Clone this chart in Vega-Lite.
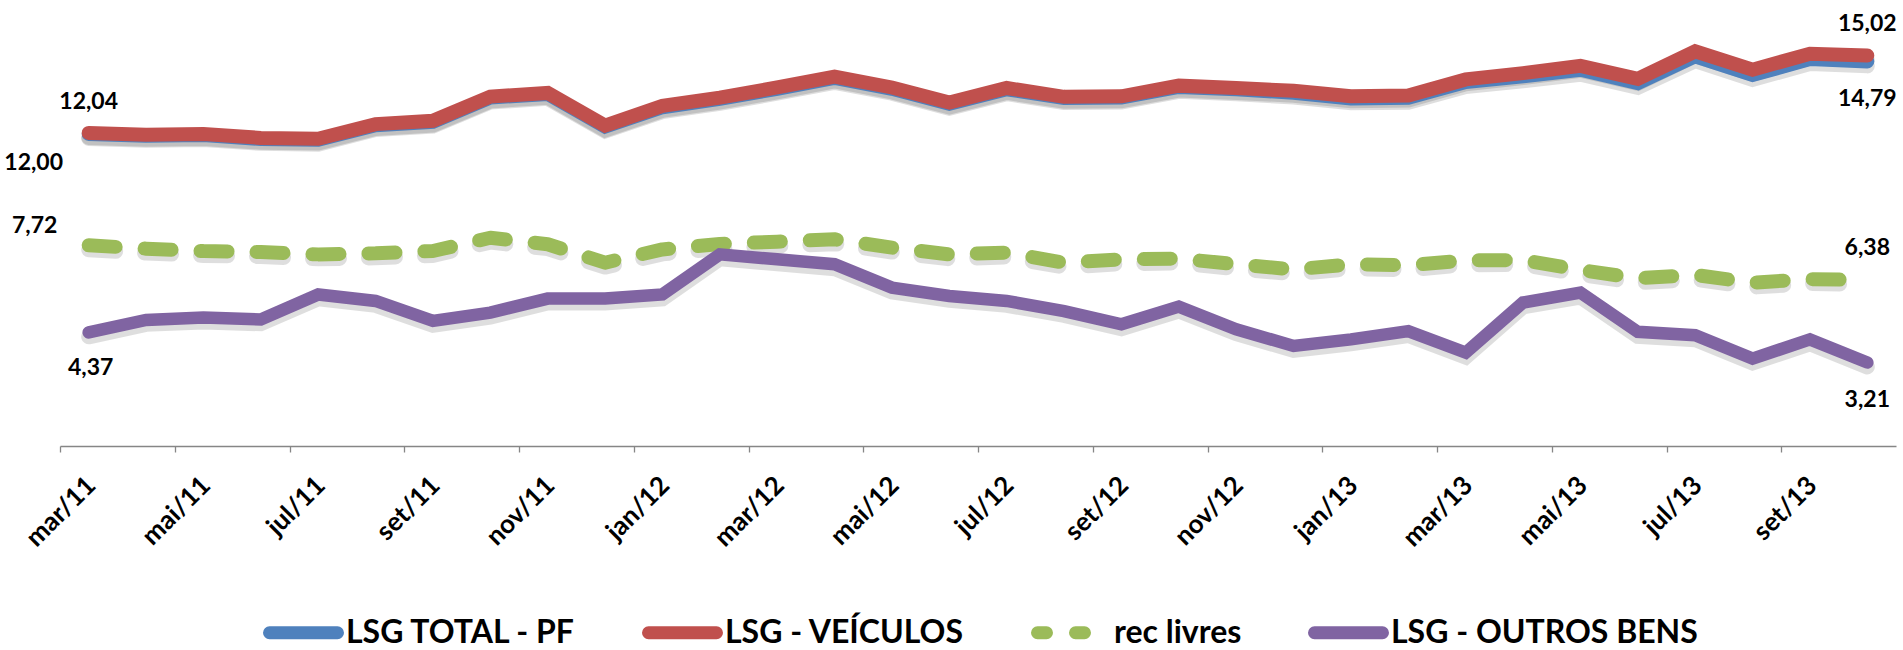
{
  "$schema": "https://vega.github.io/schema/vega-lite/v6.json",
  "width": 1836,
  "height": 416,
  "padding": {"left": 60, "top": 30, "right": 7, "bottom": 204},
  "autosize": {"type": "none"},
  "background": "white",
  "config": {
    "view": {"stroke": null},
    "font": "Lato",
    "locale": {"number": {"decimal": ",", "thousands": ".", "grouping": [3], "currency": ["R$", ""]}}
  },
  "data": {"values": [
    {"mes": "mar/11", "LSG TOTAL - PF": 12.00, "LSG - VEÍCULOS": 12.04, "rec livres": 7.72, "LSG - OUTROS BENS": 4.37},
    {"mes": "abr/11", "LSG TOTAL - PF": 11.93, "LSG - VEÍCULOS": 11.97, "rec livres": 7.59, "LSG - OUTROS BENS": 4.85},
    {"mes": "mai/11", "LSG TOTAL - PF": 11.96, "LSG - VEÍCULOS": 12.00, "rec livres": 7.50, "LSG - OUTROS BENS": 4.94},
    {"mes": "jun/11", "LSG TOTAL - PF": 11.81, "LSG - VEÍCULOS": 11.85, "rec livres": 7.46, "LSG - OUTROS BENS": 4.87},
    {"mes": "jul/11", "LSG TOTAL - PF": 11.78, "LSG - VEÍCULOS": 11.82, "rec livres": 7.37, "LSG - OUTROS BENS": 5.83},
    {"mes": "ago/11", "LSG TOTAL - PF": 12.34, "LSG - VEÍCULOS": 12.38, "rec livres": 7.41, "LSG - OUTROS BENS": 5.58},
    {"mes": "set/11", "LSG TOTAL - PF": 12.47, "LSG - VEÍCULOS": 12.51, "rec livres": 7.50, "LSG - OUTROS BENS": 4.81},
    {"mes": "out/11", "LSG TOTAL - PF": 13.40, "LSG - VEÍCULOS": 13.44, "rec livres": 8.01, "LSG - OUTROS BENS": 5.13},
    {"mes": "nov/11", "LSG TOTAL - PF": 13.54, "LSG - VEÍCULOS": 13.58, "rec livres": 7.76, "LSG - OUTROS BENS": 5.67},
    {"mes": "dez/11", "LSG TOTAL - PF": 12.28, "LSG - VEÍCULOS": 12.32, "rec livres": 7.05, "LSG - OUTROS BENS": 5.67},
    {"mes": "jan/12", "LSG TOTAL - PF": 13.03, "LSG - VEÍCULOS": 13.08, "rec livres": 7.56, "LSG - OUTROS BENS": 5.83},
    {"mes": "fev/12", "LSG TOTAL - PF": 13.35, "LSG - VEÍCULOS": 13.40, "rec livres": 7.77, "LSG - OUTROS BENS": 7.37},
    {"mes": "mar/12", "LSG TOTAL - PF": 13.74, "LSG - VEÍCULOS": 13.79, "rec livres": 7.86, "LSG - OUTROS BENS": 7.18},
    {"mes": "abr/12", "LSG TOTAL - PF": 14.16, "LSG - VEÍCULOS": 14.21, "rec livres": 7.95, "LSG - OUTROS BENS": 6.99},
    {"mes": "mai/12", "LSG TOTAL - PF": 13.74, "LSG - VEÍCULOS": 13.79, "rec livres": 7.63, "LSG - OUTROS BENS": 6.09},
    {"mes": "jun/12", "LSG TOTAL - PF": 13.16, "LSG - VEÍCULOS": 13.21, "rec livres": 7.37, "LSG - OUTROS BENS": 5.77},
    {"mes": "jul/12", "LSG TOTAL - PF": 13.72, "LSG - VEÍCULOS": 13.77, "rec livres": 7.44, "LSG - OUTROS BENS": 5.58},
    {"mes": "ago/12", "LSG TOTAL - PF": 13.38, "LSG - VEÍCULOS": 13.43, "rec livres": 7.05, "LSG - OUTROS BENS": 5.19},
    {"mes": "set/12", "LSG TOTAL - PF": 13.40, "LSG - VEÍCULOS": 13.45, "rec livres": 7.18, "LSG - OUTROS BENS": 4.68},
    {"mes": "out/12", "LSG TOTAL - PF": 13.81, "LSG - VEÍCULOS": 13.86, "rec livres": 7.21, "LSG - OUTROS BENS": 5.36},
    {"mes": "nov/12", "LSG TOTAL - PF": 13.72, "LSG - VEÍCULOS": 13.77, "rec livres": 6.99, "LSG - OUTROS BENS": 4.49},
    {"mes": "dez/12", "LSG TOTAL - PF": 13.59, "LSG - VEÍCULOS": 13.66, "rec livres": 6.79, "LSG - OUTROS BENS": 3.85},
    {"mes": "jan/13", "LSG TOTAL - PF": 13.37, "LSG - VEÍCULOS": 13.45, "rec livres": 6.99, "LSG - OUTROS BENS": 4.10},
    {"mes": "fev/13", "LSG TOTAL - PF": 13.39, "LSG - VEÍCULOS": 13.48, "rec livres": 6.95, "LSG - OUTROS BENS": 4.42},
    {"mes": "mar/13", "LSG TOTAL - PF": 14.00, "LSG - VEÍCULOS": 14.10, "rec livres": 7.14, "LSG - OUTROS BENS": 3.59},
    {"mes": "abr/13", "LSG TOTAL - PF": 14.22, "LSG - VEÍCULOS": 14.34, "rec livres": 7.15, "LSG - OUTROS BENS": 5.52},
    {"mes": "mai/13", "LSG TOTAL - PF": 14.47, "LSG - VEÍCULOS": 14.62, "rec livres": 6.77, "LSG - OUTROS BENS": 5.90},
    {"mes": "jun/13", "LSG TOTAL - PF": 13.96, "LSG - VEÍCULOS": 14.12, "rec livres": 6.45, "LSG - OUTROS BENS": 4.39},
    {"mes": "jul/13", "LSG TOTAL - PF": 14.99, "LSG - VEÍCULOS": 15.18, "rec livres": 6.58, "LSG - OUTROS BENS": 4.26},
    {"mes": "ago/13", "LSG TOTAL - PF": 14.27, "LSG - VEÍCULOS": 14.47, "rec livres": 6.28, "LSG - OUTROS BENS": 3.36},
    {"mes": "set/13", "LSG TOTAL - PF": 14.88, "LSG - VEÍCULOS": 15.09, "rec livres": 6.42, "LSG - OUTROS BENS": 4.10},
    {"mes": "out/13", "LSG TOTAL - PF": 14.79, "LSG - VEÍCULOS": 15.02, "rec livres": 6.38, "LSG - OUTROS BENS": 3.21}
  ]},
  "transform": [
    {"fold": ["LSG TOTAL - PF", "LSG - VEÍCULOS", "rec livres", "LSG - OUTROS BENS"], "as": ["serie", "valor"]}
  ],
  "encoding": {
    "x": {
      "field": "mes", "type": "ordinal", "sort": null,
      "scale": {"type": "point", "padding": 0.5},
      "axis": {
        "title": null,
        "values": ["mar/11", "mai/11", "jul/11", "set/11", "nov/11", "jan/12", "mar/12", "mai/12", "jul/12", "set/12", "nov/12", "jan/13", "mar/13", "mai/13", "jul/13", "set/13"],
        "labelAngle": -45, "labelAlign": "right", "labelBaseline": "middle",
        "labelFont": "Lato", "labelFontSize": 26, "labelFontWeight": "bold", "labelColor": "black",
        "labelPadding": 29, "labelOverlap": false, "labelBound": false, "labelFlush": false,
        "tickSize": 6, "tickColor": "#868686", "tickWidth": 1.3,
        "domainColor": "#868686", "domainWidth": 1.3,
        "tickOffset": -28.6875, "labelOffset": 31, "grid": false
      }
    },
    "y": {"field": "valor", "type": "quantitative", "scale": {"domain": [0, 16], "nice": false, "zero": false}, "axis": null}
  },
  "resolve": {"scale": {"y": "independent"}},
  "layer": [
    {
      "transform": [{"filter": "datum.serie !== 'rec livres'"}],
      "mark": {"type": "line", "stroke": "#000000", "strokeOpacity": 0.13, "strokeWidth": 15, "strokeCap": "round", "strokeJoin": "miter"},
      "encoding": {
        "y": {"field": "valor", "type": "quantitative", "scale": {"domain": [0.17, 16.17], "nice": false, "zero": false}, "axis": null},
        "detail": {"field": "serie", "type": "nominal"}
      }
    },
    {
      "transform": [{"filter": "datum.serie === 'rec livres'"}],
      "mark": {"type": "line", "stroke": "#000000", "strokeOpacity": 0.13, "strokeWidth": 15, "strokeCap": "round", "strokeJoin": "round", "strokeDash": [27, 29]},
      "encoding": {
        "y": {"field": "valor", "type": "quantitative", "scale": {"domain": [0.17, 16.17], "nice": false, "zero": false}, "axis": null}
      }
    },
    {
      "transform": [{"filter": "datum.serie === 'LSG TOTAL - PF'"}],
      "mark": {"type": "line", "strokeWidth": 14, "strokeCap": "round", "strokeJoin": "miter"},
      "encoding": {
        "color": {"field": "serie", "type": "nominal",
          "scale": {"domain": ["LSG TOTAL - PF", "LSG - VEÍCULOS", "rec livres", "LSG - OUTROS BENS"], "range": ["#4F81BD", "#C0504D", "#9BBB59", "#8064A2"]},
          "legend": {"orient": "none", "legendX": 203, "legendY": 562, "direction": "horizontal", "title": null,
            "symbolType": "stroke", "symbolSize": 4624, "symbolStrokeWidth": 13,
            "labelFont": "Lato", "labelFontSize": 32, "labelFontWeight": "bold", "labelColor": "black",
            "labelLimit": 600, "labelOffset": 2, "columnPadding": 46, "padding": 0,
            "encode": {"symbols": {"update": {"strokeCap": {"value": "round"}, "strokeDash": {"signal": "datum.value === 'rec livres' ? [9, 29] : [1, 0]"}}}}}}
      }
    },
    {
      "transform": [{"filter": "datum.serie === 'LSG - VEÍCULOS'"}],
      "mark": {"type": "line", "strokeWidth": 14, "strokeCap": "round", "strokeJoin": "miter"},
      "encoding": {"color": {"field": "serie", "type": "nominal"}}
    },
    {
      "transform": [{"filter": "datum.serie === 'rec livres'"}],
      "mark": {"type": "line", "strokeWidth": 14, "strokeCap": "round", "strokeJoin": "round", "strokeDash": [27, 29]},
      "encoding": {"color": {"field": "serie", "type": "nominal"}}
    },
    {
      "transform": [{"filter": "datum.serie === 'LSG - OUTROS BENS'"}],
      "mark": {"type": "line", "strokeWidth": 12.5, "strokeCap": "round", "strokeJoin": "miter"},
      "encoding": {"color": {"field": "serie", "type": "nominal"}}
    },
    {
      "transform": [{"filter": "datum.mes === 'mar/11' && datum.serie === 'LSG - VEÍCULOS'"}],
      "mark": {"type": "text", "dx": 0, "dy": -31, "font": "Lato", "fontSize": 23, "fontWeight": "bold", "color": "black"},
      "encoding": {"text": {"field": "valor", "type": "quantitative", "format": ".2f"}}
    },
    {
      "transform": [{"filter": "datum.mes === 'mar/11' && datum.serie === 'LSG TOTAL - PF'"}],
      "mark": {"type": "text", "dx": -55, "dy": 29, "font": "Lato", "fontSize": 23, "fontWeight": "bold", "color": "black"},
      "encoding": {"text": {"field": "valor", "type": "quantitative", "format": ".2f"}}
    },
    {
      "transform": [{"filter": "datum.mes === 'mar/11' && datum.serie === 'rec livres'"}],
      "mark": {"type": "text", "dx": -54, "dy": -19, "font": "Lato", "fontSize": 23, "fontWeight": "bold", "color": "black"},
      "encoding": {"text": {"field": "valor", "type": "quantitative", "format": ".2f"}}
    },
    {
      "transform": [{"filter": "datum.mes === 'mar/11' && datum.serie === 'LSG - OUTROS BENS'"}],
      "mark": {"type": "text", "dx": 2, "dy": 36, "font": "Lato", "fontSize": 23, "fontWeight": "bold", "color": "black"},
      "encoding": {"text": {"field": "valor", "type": "quantitative", "format": ".2f"}}
    },
    {
      "transform": [{"filter": "datum.mes === 'out/13' && datum.serie === 'LSG - VEÍCULOS'"}],
      "mark": {"type": "text", "dx": 0, "dy": -31, "font": "Lato", "fontSize": 23, "fontWeight": "bold", "color": "black"},
      "encoding": {"text": {"field": "valor", "type": "quantitative", "format": ".2f"}}
    },
    {
      "transform": [{"filter": "datum.mes === 'out/13' && datum.serie === 'LSG TOTAL - PF'"}],
      "mark": {"type": "text", "dx": 0, "dy": 38, "font": "Lato", "fontSize": 23, "fontWeight": "bold", "color": "black"},
      "encoding": {"text": {"field": "valor", "type": "quantitative", "format": ".2f"}}
    },
    {
      "transform": [{"filter": "datum.mes === 'out/13' && datum.serie === 'rec livres'"}],
      "mark": {"type": "text", "dx": 0, "dy": -32, "font": "Lato", "fontSize": 23, "fontWeight": "bold", "color": "black"},
      "encoding": {"text": {"field": "valor", "type": "quantitative", "format": ".2f"}}
    },
    {
      "transform": [{"filter": "datum.mes === 'out/13' && datum.serie === 'LSG - OUTROS BENS'"}],
      "mark": {"type": "text", "dx": 0, "dy": 37, "font": "Lato", "fontSize": 23, "fontWeight": "bold", "color": "black"},
      "encoding": {"text": {"field": "valor", "type": "quantitative", "format": ".2f"}}
    }
  ]
}
